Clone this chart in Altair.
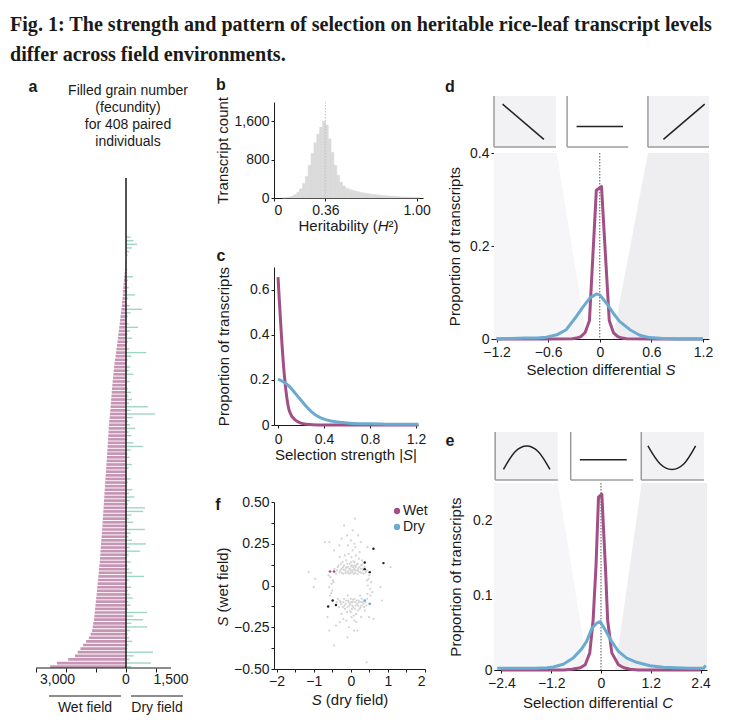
import altair as alt
import pandas as pd

FONT = "Liberation Sans"
INK = "#1a1a1a"
PURPLE = "#a24f86"
BLUE = "#6cabd0"
WETC = "#c795b4"
DRYC = "#9fd6c2"
GREYBAR = "#dadada"
SHADE_L = "#f6f6f8"
SHADE_R = "#eeeef1"
BOXFILL = "#f2f2f4"
BOXLINE = "#9c9c9c"

TITLE_LINES = ["Fig. 1: The strength and pattern of selection on heritable rice-leaf transcript levels",
               "differ across field environments."]

# ---------------- panel a : filled grain number per paired individual (sorted) -------------
WET = [0] * 23 + [
    10, 20, 35, 45, 60, 70, 80, 90, 100, 108, 118, 130, 140, 155, 170, 185, 198, 210, 225, 240,
    255, 270, 285, 300, 318, 333, 350, 368, 385, 400, 410, 422, 433, 445, 455, 466, 476, 486, 495, 505,
    515, 524, 533, 545, 560, 568, 575, 583, 590, 598, 605, 612, 620, 628, 636, 645, 653, 662, 670, 678,
    686, 694, 702, 710, 718, 725, 733, 740, 748, 756, 764, 772, 780, 789, 798, 806, 815, 824, 833, 842,
    850, 858, 867, 876, 888, 900, 912, 923, 934, 946, 958, 969, 980, 993, 1005, 1018, 1030, 1042, 1055, 1068,
    1090, 1110, 1130, 1180, 1240, 1330, 1430, 1520, 1610, 1700, 1930, 2300, 2530]
DRY = [0] * 16 + [
    150, 250, 370, 200, 100, 60, 0, 30, 0, 40, 0, 230, 60, 0, 90, 40, 300, 80, 0, 120,
    530, 150, 60, 0, 90, 400, 130, 50, 200, 70, 0, 110, 670, 180, 60, 0, 140, 90, 250, 40,
    120, 0, 60, 170, 80, 200, 100, 730, 150, 970, 220, 60, 130, 300, 90, 180, 40, 250, 570, 160,
    50, 120, 0, 200, 90, 30, 0, 150, 60, 40, 210, 100, 280, 130, 70, 630, 570, 180, 90, 240,
    60, 630, 150, 80, 200, 670, 120, 470, 90, 30, 160, 60, 110, 200, 600, 90, 40, 170, 60, 130,
    220, 80, 150, 60, 700, 250, 570, 180, 700, 140, 60, 110, 200, 90, 50, 900, 260, 120, 830, 170]
A_HEADER = ["Filled grain number", "(fecundity)", "for 408 paired", "individuals"]
A_TICKS = [-3000, -2500, -2000, -1500, -1000, -500, 0, 500, 1000, 1500]
FIELD_NAMES = ["Wet field", "Dry field"]
FIELD_FROM = [-2567, 167]
FIELD_TO = [-167, 1900]
FIELD_MID = [-1367, 1033]

# ---------------- panel b : heritability histogram ----------------
H_START = [0.06, 0.08, 0.10, 0.12, 0.14, 0.16, 0.18, 0.20, 0.22, 0.24, 0.26, 0.28, 0.30, 0.32, 0.34, 0.36,
           0.38, 0.40, 0.42, 0.44, 0.46, 0.48, 0.50, 0.52, 0.54, 0.56, 0.58, 0.60, 0.62, 0.64, 0.66, 0.68,
           0.70, 0.72, 0.74, 0.76, 0.78, 0.80, 0.82, 0.84, 0.86, 0.88, 0.90, 0.92, 0.94, 0.96, 0.98, 1.00]
H_COUNT = [5, 10, 20, 40, 70, 120, 190, 300, 450, 680, 930, 1150, 1330, 1470, 1600, 1520,
           1230, 950, 680, 470, 330, 250, 200, 180, 160, 145, 130, 115, 105, 95, 85, 75,
           70, 62, 56, 50, 45, 40, 36, 32, 28, 25, 22, 20, 18, 15, 13, 10]
H_WIDTH = 0.02

# ---------------- panel c : selection strength |S| ----------------
C_WET_X = [0.0, 0.05, 0.1, 0.15, 0.2, 0.25, 0.3, 0.4, 0.5, 0.6, 0.8, 1.0, 1.22]
C_WET_Y = [0.655, 0.25, 0.06, 0.022, 0.008, 0.003, 0.001, 0.0, 0.0, 0.0, 0.0, 0.0, 0.0]
C_DRY_X = [0.0, 0.05, 0.1, 0.15, 0.2, 0.25, 0.3, 0.35, 0.4, 0.45, 0.5, 0.6, 0.7, 0.8, 0.9, 1.0, 1.1, 1.22]
C_DRY_Y = [0.203, 0.19, 0.17, 0.14, 0.11, 0.08, 0.055, 0.037, 0.026, 0.019, 0.014, 0.009, 0.006, 0.005,
           0.004, 0.003, 0.003, 0.003]

# ---------------- panel d : selection differential S ----------------
D_WET_X = [-1.2, -0.6, -0.32, -0.27, -0.22, -0.17, -0.12, -0.04, 0.02, 0.11, 0.16, 0.21, 0.26, 0.31, 0.6, 1.2]
D_WET_Y = [0, 0, 0.0005, 0.002, 0.005, 0.014, 0.04, 0.32, 0.328, 0.04, 0.013, 0.005, 0.002, 0.0005, 0, 0]
D_DRY_X = [-1.2, -1.03, -0.87, -0.73, -0.62, -0.50, -0.39, -0.27, -0.19, -0.116, -0.04, 0.0, 0.078, 0.155,
           0.23, 0.35, 0.465, 0.58, 0.74, 0.9, 1.2]
D_DRY_Y = [0.0, 0.001, 0.002, 0.002, 0.004, 0.009, 0.02, 0.049, 0.07, 0.088, 0.097, 0.095, 0.077, 0.056,
           0.038, 0.02, 0.008, 0.003, 0.001, 0.0, 0.0]
D_SHADE_Y = [0, 0.4]
D_SHADE_LEFT = [-0.15, -0.5]
D_SHADE_RIGHT = [0.15, 0.56]
D_BOX_FROM = [-1.23, -0.38, 0.56]
D_BOX_TO = [-0.51, 0.33, 1.27]
D_BOX_FILL = [BOXFILL, "#ffffff", BOXFILL]
D_ICON_BOX = [0, 0, 1, 1, 2, 2]
D_ICON_X = [-1.13, -0.65, -0.27, 0.27, 0.74, 1.22]
D_ICON_Y = [0.84, 0.15, 0.40, 0.40, 0.15, 0.84]

# ---------------- panel e : selection differential C ----------------
E_WET_X = [-2.4, -0.9, -0.7, -0.5, -0.38, -0.27, -0.19, -0.12, -0.06, 0.02, 0.11, 0.16, 0.26, 0.42, 0.55, 0.7,
           0.9, 2.4]
E_WET_Y = [0, 0, 0.001, 0.003, 0.007, 0.023, 0.067, 0.14, 0.232, 0.236, 0.134, 0.067, 0.023, 0.007, 0.003,
           0.001, 0, 0]
E_DRY_X = [-2.5, -2.2, -1.9, -1.6, -1.3, -1.15, -0.91, -0.67, -0.47, -0.35, -0.22, -0.1, -0.02, 0.1, 0.26,
           0.42, 0.62, 0.86, 1.18, 1.5, 1.8, 2.14, 2.47, 2.52]
E_DRY_Y = [0.0023, 0.0022, 0.0025, 0.0022, 0.003, 0.004, 0.0077, 0.016, 0.028, 0.038, 0.056, 0.063, 0.065,
           0.054, 0.038, 0.025, 0.016, 0.0103, 0.0058, 0.0036, 0.003, 0.0023, 0.0023, 0.0063]
E_SHADE_Y = [0, 0.251]
E_SHADE_LEFT = [-0.31, -1.04]
E_SHADE_RIGHT = [0.34, 0.98]
E_BOX_FROM = [-2.55, -0.73, 0.97]
E_BOX_TO = [-1.04, 0.78, 2.48]
E_BOX_FILL = [BOXFILL, "#ffffff", BOXFILL]
E_ICON_BOX = [0, 0, 0, 0, 0, 1, 1, 2, 2, 2, 2, 2]
E_ICON_X = [-2.35, -2.07, -1.79, -1.51, -1.23, -0.51, 0.62, 1.13, 1.42, 1.71, 2.0, 2.28]
E_ICON_Y = [0.22, 0.59, 0.71, 0.59, 0.22, 0.42, 0.42, 0.71, 0.34, 0.22, 0.34, 0.71]

# ---------------- panel f : S (dry) vs S (wet) ----------------
F_GREY_X = [0.11, -0.18, -0.70, -0.58, -1.14, -0.96, -1.0, -0.45, -0.31, 0.0, 0.27, 0.45, 1.07, 0.80, 0.84,
            0.61, 0.49, -0.58, -0.40, -0.45, -0.09, 0.18, 0.43, -0.63,
            -0.40, -0.30, -0.25, -0.20, -0.18, -0.15, -0.12, -0.10, -0.08, -0.05, -0.03, 0.00, 0.02, 0.04,
            0.06, 0.08, 0.10, 0.12, 0.15, 0.18, 0.20, 0.22, 0.25, 0.28, 0.32, 0.35, -0.22, -0.06, 0.05,
            0.14, -0.16, 0.30, -0.35, 0.40, -0.02, 0.09, -0.11, 0.17, -0.27, 0.01, 0.24, -0.30, 0.12, -0.08,
            -0.37, -0.33, -0.28, -0.24, -0.21, -0.19, -0.14, -0.13, -0.09, -0.07, -0.04, -0.01, 0.03, 0.05,
            0.07, 0.11, 0.13, 0.16, 0.19, 0.21, 0.23, 0.27, 0.29, 0.31, 0.34, 0.37, 0.43, -0.44, 0.00, 0.10,
            -0.10, 0.05, 0.20, -0.25, 0.10,
            -0.35, -0.28, -0.22, -0.18, -0.14, -0.10, -0.07, -0.04, 0.00, 0.03, 0.05, 0.08, 0.10, 0.13,
            0.16, 0.19, 0.22, 0.26, 0.30, 0.34, 0.38, -0.25, -0.12, 0.02, 0.15, 0.28, -0.05, 0.09, -0.30,
            0.42, -0.02, 0.07, -0.16, 0.20, -0.08, 0.25,
            -0.38, -0.32, -0.30, -0.26, -0.20, -0.17, -0.12, -0.09, -0.06, -0.03, 0.01, 0.04, 0.06, 0.11,
            0.12, 0.14, 0.17, 0.21, 0.24, 0.27, 0.29, 0.32, 0.36, 0.40, 0.44, 0.00, 0.10, -0.20,
            -0.55, -0.52, -0.50, -0.56, -0.48, -0.58, -0.60, -0.53, -0.47, 0.48, 0.52, 0.55, 0.45, 0.50,
            0.58, 0.46, 0.53, 0.44]
F_GREY_Y = [0.40, 0.36, 0.26, 0.26, 0.08, 0.04, -0.01, 0.21, 0.24, 0.27, 0.26, 0.23, 0.11, -0.01, -0.09,
            -0.20, -0.19, -0.27, -0.24, -0.36, -0.31, -0.27, -0.46, -0.19,
            0.07, 0.08, 0.10, 0.07, 0.12, 0.09, 0.15, 0.08, 0.11, 0.07, 0.13, 0.09, 0.17, 0.08,
            0.11, 0.07, 0.14, 0.09, 0.12, 0.07, 0.10, 0.16, 0.08, 0.12, 0.09, 0.07, 0.14, 0.19, 0.21,
            0.18, 0.18, 0.15, 0.11, 0.08, 0.10, 0.10, 0.11, 0.13, 0.13, 0.14, 0.20, 0.17, 0.23, 0.24,
            0.09, 0.12, 0.09, 0.075, 0.11, 0.095, 0.075, 0.105, 0.13, 0.085, 0.10, 0.075, 0.12, 0.09,
            0.145, 0.075, 0.11, 0.09, 0.13, 0.085, 0.11, 0.10, 0.075, 0.125, 0.10, 0.11, 0.09, 0.10, 0.115, 0.12,
            0.30, 0.33, 0.30, 0.28, 0.25,
            -0.08, -0.10, -0.13, -0.08, -0.11, -0.16, -0.09, -0.12, -0.08, -0.14, -0.10, -0.18, -0.08, -0.12,
            -0.09, -0.15, -0.10, -0.13, -0.08, -0.11, -0.15, -0.17, -0.21, -0.19, -0.22, -0.19, -0.25, -0.27,
            -0.22, -0.12, -0.11, -0.13, -0.14, -0.12, -0.06, -0.06,
            -0.10, -0.13, -0.09, -0.11, -0.10, -0.12, -0.09, -0.13, -0.10, -0.15, -0.10, -0.12, -0.085, -0.14,
            -0.10, -0.17, -0.11, -0.09, -0.14, -0.10, -0.12, -0.10, -0.13, -0.10, -0.08, -0.16, -0.21, -0.20,
            0.05, 0.01, -0.03, -0.06, 0.03, -0.01, 0.06, -0.045, 0.02, 0.04, -0.02, 0.02, -0.05, 0.06,
            -0.04, 0.0, -0.06, 0.03]
F_BLACK_X = [0.61, 0.88, 0.375, 0.375, 0.51, -0.61, -0.49, -0.40]
F_BLACK_Y = [0.22, 0.134, 0.138, 0.098, 0.08, -0.126, -0.09, -0.117]
F_WET_X = [-0.56, -0.45]
F_WET_Y = [0.084, 0.084]
F_DRY_X = [0.375, 0.51]
F_DRY_Y = [-0.09, -0.11]
LEGEND_NAMES = ["Wet", "Dry"]
LEGEND_COLORS = [PURPLE, BLUE]

# Arial / Liberation Sans advance widths (1/1000 em), used to butt italic letters against roman text
ADV = {' ': 278, '(': 333, ')': 333, '|': 260, '²': 333, 'a': 556, 'b': 556, 'c': 500, 'd': 556, 'e': 556,
       'f': 278, 'g': 556, 'h': 556, 'i': 222, 'l': 222, 'n': 556, 'o': 556, 'r': 333, 's': 500, 't': 278,
       'w': 722, 'y': 500, 'S': 667, 'H': 722, 'C': 722}


def one():
    return pd.DataFrame({"v": [0]})


def tw(s, size):
    return sum(ADV.get(ch, 556) for ch in s) * size / 1000.0


def rich(parts, cx, cy, size=15, angle=0):
    total = sum(tw(t, size) for t, _ in parts)
    out = []
    pos = -total / 2.0
    for t, it in parts:
        lead = len(t) - len(t.lstrip())
        p = pos + tw(t[:lead], size)
        if angle == 0:
            x, y = cx + p, cy
        else:
            x, y = cx, cy - p
        out.append(alt.Chart(one()).mark_text(
            text=t.strip(), font=FONT, fontSize=size, fontStyle="italic" if it else "normal",
            align="left", baseline="middle", angle=angle, color=INK).encode(x=alt.value(x), y=alt.value(y)))
        pos += tw(t, size)
    return out


def spacer(h, w=1):
    return alt.Chart(one()).mark_point(opacity=0).encode(
        x=alt.value(0), y=alt.value(0)).properties(width=w, height=h)


def letter(ch, x, y):
    return alt.Chart(pd.DataFrame({"t": [ch]})).mark_text(
        font=FONT, fontSize=16, fontWeight="bold", align="center", baseline="middle", color=INK
    ).encode(text="t:N", x=alt.value(x), y=alt.value(y))


# ================= panel a =================
AW, AH = 169, 490
dfA = pd.DataFrame({"row": list(range(len(WET))), "wet": [-v for v in WET], "dry": DRY})
xA = alt.Scale(domain=[-3000, 2633], nice=False, zero=False)
axA = alt.Axis(values=A_TICKS, labels=False, domain=False, title=None, tickSize=4, grid=False)
yA = alt.Y("row:O", scale=alt.Scale(paddingInner=0.25, paddingOuter=0), axis=None)
wetA = alt.Chart(dfA).mark_bar(color=WETC).encode(
    x=alt.X("wet:Q", scale=xA, axis=axA), x2=alt.datum(0), y=yA)
dryA = alt.Chart(dfA).mark_bar(color=DRYC, size=1.4).encode(
    x=alt.X("dry:Q", scale=xA, axis=axA), x2=alt.datum(0), y=yA)
zeroA = alt.Chart(one()).mark_rule(color=INK, strokeWidth=1.5).encode(
    x=alt.datum(0), y=alt.value(0), y2=alt.value(AH))
baseA = alt.Chart(one()).mark_rule(color=INK, strokeWidth=1).encode(
    x=alt.datum(A_TICKS[0]), x2=alt.datum(A_TICKS[-1]), y=alt.value(AH))
labA1 = alt.Chart(pd.DataFrame({"v": [-3000], "t": ["3,000"]})).mark_text(
    font=FONT, fontSize=14, align="left", dx=4, baseline="middle", color=INK).encode(
    x=alt.X("v:Q"), y=alt.value(AH + 12), text="t:N")
labA2 = alt.Chart(pd.DataFrame({"v": [0, 1500], "t": ["0", "1,500"]})).mark_text(
    font=FONT, fontSize=14, align="center", baseline="middle", color=INK).encode(
    x=alt.X("v:Q"), y=alt.value(AH + 12), text="t:N")
dfField = pd.DataFrame({"name": FIELD_NAMES, "a": FIELD_FROM, "b": FIELD_TO, "m": FIELD_MID})
fieldLine = alt.Chart(dfField).mark_rule(color=INK, strokeWidth=1).encode(
    x="a:Q", x2="b:Q", y=alt.value(AH + 28))
fieldText = alt.Chart(dfField).mark_text(
    font=FONT, fontSize=14, align="center", baseline="middle", color=INK).encode(
    x="m:Q", y=alt.value(AH + 40), text="name:N")
headerA = alt.Chart(one()).mark_text(
    text=A_HEADER, font=FONT, fontSize=14, lineHeight=17, align="center", baseline="top", color=INK
).encode(x=alt.value(92), y=alt.value(-94))
panelA = alt.layer(wetA, dryA, zeroA, baseA, labA1, labA2, fieldLine, fieldText, headerA,
                   letter("a", -3, -91)).properties(width=AW, height=AH)

# ================= panel b =================
BW, BH = 149, 96
dfB = pd.DataFrame({"s": H_START, "e": [s + H_WIDTH for s in H_START], "n": H_COUNT})
xB = alt.Scale(domain=[0, 1.045], nice=False, zero=False)
barsB = alt.Chart(dfB).mark_rect(color=GREYBAR, stroke=GREYBAR, strokeWidth=0.6).encode(
    x=alt.X("s:Q", scale=xB, axis=alt.Axis(
        values=[0, 0.36, 1.0], labelExpr="datum.value == 0 ? '0' : format(datum.value, '.2f')", title=None)),
    x2="e:Q",
    y=alt.Y("n:Q", scale=alt.Scale(domain=[0, 2000], nice=False), axis=alt.Axis(
        values=[0, 800, 1600], labelExpr="format(datum.value, ',d')",
        title="Transcript count", titleX=-52, titleBaseline="middle")),
    y2=alt.datum(0))
dotB = alt.Chart(one()).mark_rule(color="#c4c4c4", strokeDash=[1.5, 1.5], strokeWidth=1).encode(
    x=alt.datum(0.36), y=alt.value(0), y2=alt.value(BH))
panelB = alt.layer(barsB, dotB, letter("b", -53, -17),
                   *rich([("Heritability (", False), ("H", True), ("²)", False)], 74.5, BH + 28)
                   ).properties(width=BW, height=BH)

# ================= panel c =================
CW, CH = 144, 158
xC = alt.Scale(domain=[-0.035, 1.217], nice=False, zero=False)
yC = alt.Scale(domain=[0, 0.7], nice=False)
axCx = alt.Axis(values=[0, 0.4, 0.8, 1.2], labelExpr="datum.value == 0 ? '0' : format(datum.value, '.1f')",
                title=None, labelPadding=4)
axCy = alt.Axis(values=[0, 0.2, 0.4, 0.6], labelExpr="datum.value == 0 ? '0' : format(datum.value, '.1f')",
                title="Proportion of transcripts", titleX=-51, titleBaseline="middle")
wetC = alt.Chart(pd.DataFrame({"x": C_WET_X, "y": C_WET_Y})).mark_line(
    color=PURPLE, strokeWidth=3, interpolate="monotone").encode(
    x=alt.X("x:Q", scale=xC, axis=axCx), y=alt.Y("y:Q", scale=yC, axis=axCy))
dryC = alt.Chart(pd.DataFrame({"x": C_DRY_X, "y": C_DRY_Y})).mark_line(
    color=BLUE, strokeWidth=3, interpolate="monotone").encode(
    x=alt.X("x:Q", scale=xC, axis=axCx), y=alt.Y("y:Q", scale=yC, axis=axCy))
panelC = alt.layer(wetC, dryC, letter("c", -53, -11),
                   *rich([("Selection strength |", False), ("S", True), ("|", False)], 72, CH + 30)
                   ).properties(width=CW, height=CH)

# ================= panel f =================
FW, FH = 151, 167
xF = alt.Scale(domain=[-2.07, 2.0], nice=False, zero=False)
yF = alt.Scale(domain=[-0.5, 0.5], nice=False)
axFx = alt.Axis(values=[-2, -1.5, -1, -0.5, 0, 0.5, 1, 1.5, 2],
                labelExpr="datum.value % 1 == 0 ? format(datum.value, 'd') : ''", title=None)
axFy = alt.Axis(values=[-0.5, -0.375, -0.25, -0.125, 0, 0.125, 0.25, 0.375, 0.5],
                labelExpr="datum.value == 0 ? '0' : (abs(datum.value * 4 - round(datum.value * 4)) < 0.01 ? format(datum.value, '.2f') : '')",
                title=None)


def scat(xs, ys, color, size):
    return alt.Chart(pd.DataFrame({"x": xs, "y": ys})).mark_circle(color=color, size=size, opacity=1).encode(
        x=alt.X("x:Q", scale=xF, axis=axFx), y=alt.Y("y:Q", scale=yF, axis=axFy))


legF = pd.DataFrame({"name": LEGEND_NAMES, "c": LEGEND_COLORS, "py": [9, 25]})
legDots = alt.Chart(legF).mark_circle(size=40, opacity=1).encode(
    x=alt.value(123), y=alt.Y("py:Q", scale=None), color=alt.Color("c:N", scale=None))
legText = alt.Chart(legF).mark_text(font=FONT, fontSize=14, align="left", baseline="middle", color=INK).encode(
    x=alt.value(129), y=alt.Y("py:Q", scale=None), text="name:N")
panelF = alt.layer(scat(F_GREY_X, F_GREY_Y, "#d4d4d4", 5), scat(F_BLACK_X, F_BLACK_Y, "#222222", 6),
                   scat(F_WET_X, F_WET_Y, PURPLE, 7), scat(F_DRY_X, F_DRY_Y, BLUE, 7),
                   legDots, legText, letter("f", -56, 3),
                   *rich([("S", True), (" (dry field)", False)], 76, FH + 31),
                   *rich([("S", True), (" (wet field)", False)], -51, 85, angle=270)
                   ).properties(width=FW, height=FH)


# ================= panels d and e =================
def main_panel(W, H, xdom, ydom, xvals, yvals, xtitle, tcx, tcy, ytitleX, shade_y, sl, sr, wx, wy, dx_, dy_,
               yoffset=0):
    xs = alt.Scale(domain=xdom, nice=False, zero=False)
    ys = alt.Scale(domain=ydom, nice=False)
    axx = alt.Axis(values=xvals, labelExpr="datum.value == 0 ? '0' : format(datum.value, '.1f')",
                   title=None, labelPadding=3)
    axy = alt.Axis(values=yvals, labelExpr="datum.value == 0 ? '0' : format(datum.value, '.1f')",
                   title="Proportion of transcripts", titleX=ytitleX, titleBaseline="middle", offset=yoffset)
    left = alt.Chart(pd.DataFrame({"y": shade_y, "b": sl, "e": [xdom[0] for _ in shade_y]})).mark_area(
        orient="horizontal", color=SHADE_L).encode(
        y=alt.Y("y:Q", scale=ys, axis=axy), x=alt.X("b:Q", scale=xs, axis=axx), x2="e:Q")
    right = alt.Chart(pd.DataFrame({"y": shade_y, "b": sr, "e": [xdom[1] for _ in shade_y]})).mark_area(
        orient="horizontal", color=SHADE_R).encode(
        y=alt.Y("y:Q", scale=ys, axis=axy), x=alt.X("b:Q", scale=xs, axis=axx), x2="e:Q")
    dot = alt.Chart(one()).mark_rule(color="#555555", strokeDash=[1.5, 1.5], strokeWidth=1).encode(
        x=alt.datum(0), y=alt.value(0), y2=alt.value(H))
    wet = alt.Chart(pd.DataFrame({"x": wx, "y": wy})).mark_line(
        color=PURPLE, strokeWidth=3, strokeJoin="round").encode(
        x=alt.X("x:Q", scale=xs, axis=axx), y=alt.Y("y:Q", scale=ys, axis=axy))
    dry = alt.Chart(pd.DataFrame({"x": dx_, "y": dy_})).mark_line(
        color=BLUE, strokeWidth=3, strokeJoin="round").encode(
        x=alt.X("x:Q", scale=xs, axis=axx), y=alt.Y("y:Q", scale=ys, axis=axy))
    return alt.layer(left, right, dot, wet, dry,
                     *rich([("Selection differential ", False), (xtitle, True)], tcx, tcy)
                     ).properties(width=W, height=H)


def inset_panel(W, H, xdom, bfrom, bto, bfill, ibox, ix, iy, let, lx, ly):
    xs = alt.Scale(domain=xdom, nice=False, zero=False)
    ys = alt.Scale(domain=[0, 1], nice=False)
    dfb = pd.DataFrame({"a": bfrom, "b": bto, "f": bfill})
    rects = alt.Chart(dfb).mark_rect().encode(
        x=alt.X("a:Q", scale=xs, axis=None), x2="b:Q", y=alt.value(0), y2=alt.value(H),
        color=alt.Color("f:N", scale=None))
    ledge = alt.Chart(dfb).mark_rule(color=BOXLINE, strokeWidth=1.5).encode(
        x=alt.X("a:Q", scale=xs, axis=None), y=alt.value(0), y2=alt.value(H))
    bedge = alt.Chart(dfb).mark_rule(color=BOXLINE, strokeWidth=1.5).encode(
        x=alt.X("a:Q", scale=xs, axis=None), x2="b:Q", y=alt.value(H))
    icons = alt.Chart(pd.DataFrame({"g": ibox, "x": ix, "y": iy})).mark_line(
        color="#222222", strokeWidth=1.5, interpolate="monotone").encode(
        x=alt.X("x:Q", scale=xs, axis=None), y=alt.Y("y:Q", scale=ys, axis=None), detail="g:N")
    return alt.layer(rects, ledge, bedge, icons, letter(let, lx, ly)).properties(width=W, height=H)


insetD = inset_panel(215, 51, [-1.23, 1.27], D_BOX_FROM, D_BOX_TO, D_BOX_FILL, D_ICON_BOX, D_ICON_X, D_ICON_Y,
                     "d", -44, -9)
panelD = main_panel(215, 186, [-1.23, 1.27], [0, 0.4], [-1.2, -0.6, 0, 0.6, 1.2], [0, 0.2, 0.4],
                    "S", 107, 186 + 31, -40, D_SHADE_Y, D_SHADE_LEFT, D_SHADE_RIGHT,
                    D_WET_X, D_WET_Y, D_DRY_X, D_DRY_Y)
insetE = inset_panel(213, 48, [-2.578, 2.554], E_BOX_FROM, E_BOX_TO, E_BOX_FILL, E_ICON_BOX, E_ICON_X,
                     E_ICON_Y, "e", -44, 9)
panelE = main_panel(213, 187, [-2.578, 2.554], [0, 0.251], [-2.4, -1.2, 0, 1.2, 2.4], [0, 0.1, 0.2],
                    "C", 104, 187 + 33, -42, E_SHADE_Y, E_SHADE_LEFT, E_SHADE_RIGHT,
                    E_WET_X, E_WET_Y, E_DRY_X, E_DRY_Y, yoffset=-3)

col1 = alt.vconcat(spacer(81), panelA, spacing=1, bounds="flush")
col2 = alt.vconcat(spacer(5), panelB, spacer(67), panelC, spacer(75), panelF, spacing=1, bounds="flush")
col3 = alt.vconcat(insetD, spacer(4), panelD, spacer(91), insetE, spacer(1), panelE, spacing=1, bounds="flush")

# nested columns count as zero-width cells under flush bounds; horizontal offsets come from spacers
chart = alt.hconcat(col1, spacer(1, 238), col2, spacer(1, 220), col3, spacing=0, bounds="flush").properties(
    title=alt.TitleParams(text=TITLE_LINES, anchor="start", frame="group", font="Liberation Serif",
                          fontSize=20.1, fontWeight="bold", lineHeight=30, offset=12, dx=-26, color=INK),
    padding={"left": 2, "top": 6, "right": 2, "bottom": 2},
).configure_view(stroke=None).configure_axis(
    labelFont=FONT, titleFont=FONT, labelFontSize=14, titleFontSize=15, titleFontWeight="normal",
    labelColor=INK, titleColor=INK, domainColor=INK, tickColor=INK, tickSize=3, grid=False,
    labelPadding=2, domainWidth=1, tickWidth=1
).configure_text(font=FONT)

chart.save("out.html", embed_options={"renderer": "svg", "actions": False})
